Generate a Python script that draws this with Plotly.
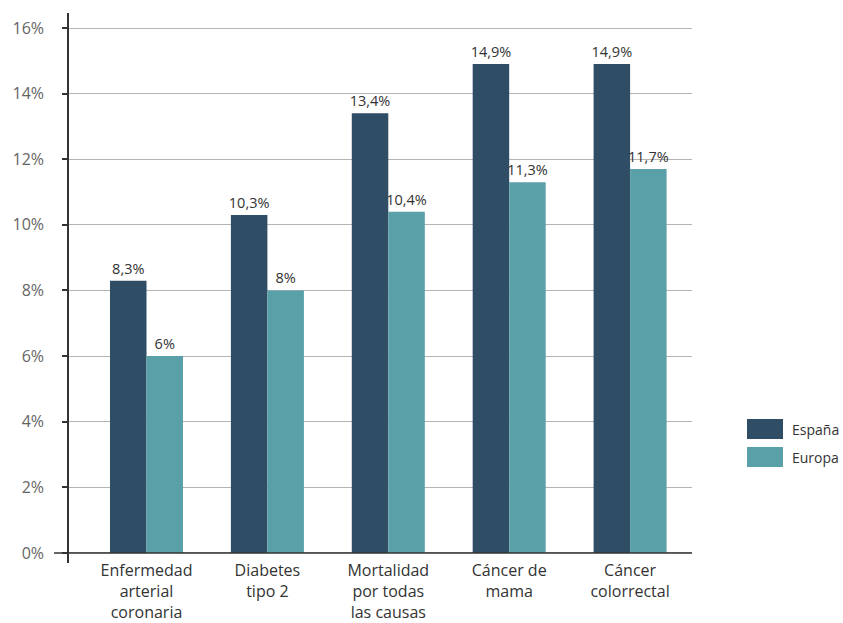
import plotly.graph_objects as go

categories = ["Enfermedad<br>arterial<br>coronaria", "Diabetes<br>tipo 2", "Mortalidad<br>por todas<br>las causas", "Cáncer de<br>mama", "Cáncer<br>colorrectal"]
espana = [8.3, 10.3, 13.4, 14.9, 14.9]
europa = [6, 8, 10.4, 11.3, 11.7]
series_names = ["España", "Europa"]
y_ticks = [0, 2, 4, 6, 8, 10, 12, 14, 16]

C_ES = "#304D66"
C_EU = "#5AA0A8"
FONT = "Open Sans"

def fmt(v):
    if float(v).is_integer():
        return f"{int(v)}%"
    return f"{v:.1f}".replace(".", ",") + "%"

fig = go.Figure()
for name, vals, col in [(series_names[0], espana, C_ES), (series_names[1], europa, C_EU)]:
    fig.add_trace(go.Bar(
        x=list(range(len(categories))), y=vals, name=name, marker=dict(color=col, line=dict(width=0)),
        text=[fmt(v) for v in vals], textposition="outside", cliponaxis=False, constraintext="none",
        textfont=dict(family=FONT, size=14.5, color="#333333"), showlegend=False,
    ))

fig.update_layout(
    width=843, height=623,
    margin=dict(l=69, r=151, t=13, b=60, autoexpand=False),
    paper_bgcolor="white", plot_bgcolor="white",
    barmode="group", bargap=0.396, bargroupgap=0,
    font=dict(family=FONT),
)
fig.update_xaxes(
    range=[-0.641, 4.512], tickmode="array", tickvals=list(range(len(categories))), ticktext=categories,
    showgrid=False, zeroline=False, showline=False, ticks="", automargin=False,
    ticklabelstandoff=-4,
    tickfont=dict(family=FONT, size=16, color="#333333"),
)
fig.update_yaxes(
    range=[-0.305, 16.457], tickmode="array", tickvals=y_ticks, ticktext=[f"{t}%" for t in y_ticks],
    showgrid=True, gridcolor="#b4b4b4", gridwidth=1, zeroline=False, automargin=False,
    showline=True, linecolor="#333333", linewidth=1.5,
    ticks="outside", ticklen=5, tickcolor="#333333", tickwidth=1.5,
    ticklabelstandoff=15,
    tickfont=dict(family=FONT, size=16, color="#666666"),
)
# x axis baseline at 0
fig.add_shape(type="line", xref="paper", yref="y", x0=-0.024, x1=1, y0=0, y1=0,
              line=dict(color="#333333", width=1.5), layer="above")

# manual legend
W, H = 623, 550
def px(x): return (x - 69) / W
def py(y): return 1 - (y - 13) / H
for (name, col, top) in [(series_names[0], C_ES, 419), (series_names[1], C_EU, 447)]:
    fig.add_shape(type="rect", xref="paper", yref="paper", x0=px(747), x1=px(783), y0=py(top + 20), y1=py(top),
                  fillcolor=col, line=dict(width=0))
    fig.add_annotation(xref="paper", yref="paper", x=px(790), y=py(top + 10), text=name, showarrow=False,
                       xanchor="left", yanchor="middle", font=dict(family=FONT, size=14, color="#333333"))

fig.write_html("out.html")
